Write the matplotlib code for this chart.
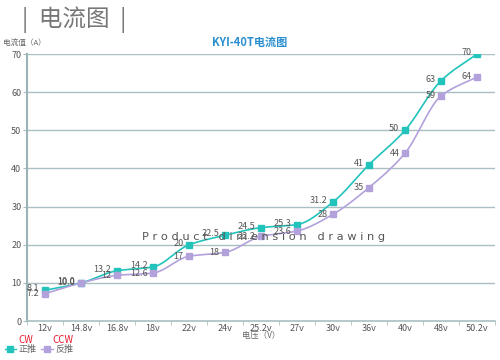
import numpy as np
import matplotlib
matplotlib.use("Agg")
import matplotlib.pyplot as plt
from matplotlib.lines import Line2D

plt.rcParams['font.family'] = ['Noto Sans CJK SC', 'DejaVu Sans']

categories = ['12v', '14.8v', '16.8v', '18v', '22v', '24v', '25.2v', '27v', '30v', '36v', '40v', '48v', '50.2v']
cw_values = [8.1, 10.0, 13.2, 14.2, 20, 22.5, 24.5, 25.3, 31.2, 41, 50, 63, 70]
ccw_values = [7.2, 10.0, 12, 12.6, 17, 18, 22.2, 23.6, 28, 35, 44, 59, 64]
cw_labels = ['8.1', '10.0', '13.2', '14.2', '20', '22.5', '24.5', '25.3', '31.2', '41', '50', '63', '70']
ccw_labels = ['7.2', '10.0', '12', '12.6', '17', '18', '22.2', '23.6', '28', '35', '44', '59', '64']
yticks = [0, 10, 20, 30, 40, 50, 60, 70]

CW_COLOR = '#22c3bb'
CCW_COLOR = '#b3a1dc'
GRID = '#a9bfc2'


def smooth(x, y, n=20):
    x = np.asarray(x, float)
    y = np.asarray(y, float)
    h = np.diff(x)
    d = np.diff(y) / h
    m = np.zeros_like(y)
    m[0], m[-1] = d[0], d[-1]
    for i in range(1, len(y) - 1):
        if d[i - 1] * d[i] <= 0:
            m[i] = 0
        else:
            m[i] = 2 / (1 / d[i - 1] + 1 / d[i])
    xs, ys = [], []
    for i in range(len(x) - 1):
        t = np.linspace(0, 1, n, endpoint=False)
        h00 = 2 * t**3 - 3 * t**2 + 1
        h10 = t**3 - 2 * t**2 + t
        h01 = -2 * t**3 + 3 * t**2
        h11 = t**3 - t**2
        xs.append(x[i] + t * h[i])
        ys.append(h00 * y[i] + h10 * h[i] * m[i] + h01 * y[i + 1] + h11 * h[i] * m[i + 1])
    xs.append([x[-1]])
    ys.append([y[-1]])
    return np.concatenate(xs), np.concatenate(ys)


fig = plt.figure(figsize=(5, 3.6), dpi=100)
ax = fig.add_axes([0.054, 0.108, 0.936, 0.742])

x = np.arange(len(categories))
ax.set_xlim(-0.5, len(categories) - 0.5)
ax.set_ylim(0, 70)

for yt in yticks[1:]:
    ax.axhline(yt, color=GRID, lw=1.0, zorder=0)

sx, sy = smooth(x, cw_values)
ax.plot(sx, sy, color=CW_COLOR, lw=1.2, zorder=3)
ax.plot(x, cw_values, ls='none', marker='s', ms=5, color=CW_COLOR, zorder=4)
sx, sy = smooth(x, ccw_values)
ax.plot(sx, sy, color=CCW_COLOR, lw=1.2, zorder=3)
ax.plot(x, ccw_values, ls='none', marker='s', ms=5, color=CCW_COLOR, zorder=4)

for xi, v, lab in zip(x, cw_values, cw_labels):
    ax.annotate(lab, (xi, v), xytext=(-4, 1), textcoords='offset points',
                ha='right', va='center', fontsize=6.5, color='#555555', zorder=5)
for xi, v, lab in zip(x, ccw_values, ccw_labels):
    ax.annotate(lab, (xi, v), xytext=(-4, 0), textcoords='offset points',
                ha='right', va='center', fontsize=6.5, color='#555555', zorder=5)

ax.set_xticks(x)
ax.set_xticklabels(categories, fontsize=6.5, color='#555555')
ax.set_xticks(np.arange(-0.5, len(categories), 1), minor=True)
ax.tick_params(axis='x', which='major', length=0, pad=2)
ax.tick_params(axis='x', which='minor', length=3, color=GRID)
ax.set_yticks(yticks)
ax.set_yticklabels([str(v) for v in yticks], fontsize=6.5, color='#555555')
ax.tick_params(axis='y', length=3, color=GRID, pad=1)

for s in ['top', 'right']:
    ax.spines[s].set_visible(False)
ax.spines['left'].set_color('#9ab3b6')
ax.spines['left'].set_linewidth(1.5)
ax.spines['bottom'].set_color(GRID)
ax.spines['bottom'].set_linewidth(1.2)

fig.text(0.5, 0.881, 'KYI-40T电流图', ha='center', va='center', fontsize=8,
         fontweight='bold', color='#2a8fd0')
fig.text(0.006, 0.881, '电流值（A）', ha='left', va='center', fontsize=5.5, color='#666666')
fig.text(0.522, 0.067, '电压（V）', ha='center', va='center', fontsize=6, color='#666666')
fig.text(0.045, 0.945, '|  电流图  |', ha='left', va='center', fontsize=17, color='#777777')
fig.text(0.528, 0.341, ' '.join('Product dimension drawing'), ha='center', va='center',
         fontsize=8.2, color='#555555', zorder=10, fontfamily='DejaVu Sans')

# legend
h1 = Line2D([], [], color=CW_COLOR, marker='s', ms=4.5, lw=1)
h2 = Line2D([], [], color=CCW_COLOR, marker='s', ms=4.5, lw=1)
leg = fig.legend([h1, h2], ['正推', '反推'], loc='center left', bbox_to_anchor=(0.0, 0.03),
                 ncol=2, frameon=False, fontsize=6.5, handlelength=1.3, handletextpad=0.3,
                 columnspacing=0.5, borderpad=0)
for t in leg.get_texts():
    t.set_color('#666666')
fig.text(0.036, 0.056, 'CW', ha='left', va='center', fontsize=7, color='#e8192c')
fig.text(0.104, 0.056, 'CCW', ha='left', va='center', fontsize=7, color='#e8192c')

fig.savefig('out.png', dpi=100)
